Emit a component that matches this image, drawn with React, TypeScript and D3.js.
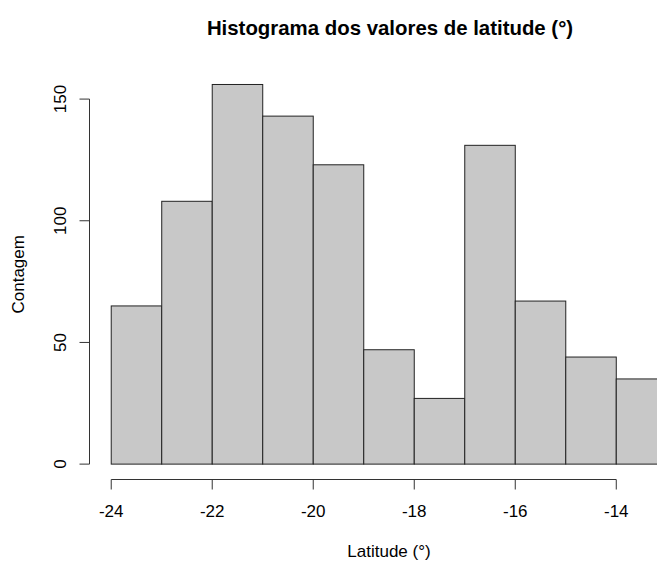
import React from "react";
import * as d3 from "d3";

// Histogram bins (latitude in degrees, 1-degree wide) and their counts
const binStarts = [-24, -23, -22, -21, -20, -19, -18, -17, -16, -15, -14];
const binWidth = 1;
const counts = [65, 108, 156, 143, 123, 47, 27, 131, 67, 44, 35];
const xTicks = [-24, -22, -20, -18, -16, -14];
const yTicks = [0, 50, 100, 150];

const W = 657;
const H = 561;
const FONT = "'Liberation Sans', Arial, Helvetica, sans-serif";

export default function App() {
  // Plot region padded 4% beyond the data range on each side
  const xLim = [-24, -13];
  const xPad = (xLim[1] - xLim[0]) * 0.04;
  const x = d3
    .scaleLinear()
    .domain([xLim[0] - xPad, xLim[1] + xPad])
    .range([89, 689]);
  const yLim = [0, 156];
  const yPad = (yLim[1] - yLim[0]) * 0.04;
  const y = d3
    .scaleLinear()
    .domain([yLim[0] - yPad, yLim[1] + yPad])
    .range([479.3, 69.3]);

  const axisY = 479.5;
  const axisX = 89.5;
  const cx = (x.range()[0] + x.range()[1]) / 2;
  const cy = (y.range()[0] + y.range()[1]) / 2;

  return (
    <svg
      width={W}
      height={H}
      viewBox={`0 0 ${W} ${H}`}
      style={{ position: "absolute", left: 0, top: 0, background: "#fff" }}
      fontFamily={FONT}
    >
      <text
        x={cx + 1}
        y={35}
        textAnchor="middle"
        fontSize={20.4}
        fontWeight="bold"
        fill="#000"
      >
        Histograma dos valores de latitude (°)
      </text>

      {/* bars */}
      <g>
        {binStarts.map((b, i) => (
          <rect
            key={b}
            x={x(b)}
            y={y(counts[i])}
            width={x(b + binWidth) - x(b)}
            height={y(0) - y(counts[i])}
            fill="#c8c8c8"
            stroke="#222"
            strokeWidth={1}
          />
        ))}
      </g>

      {/* x axis */}
      <g stroke="#333" strokeWidth={1} fill="none">
        <line x1={x(xTicks[0])} x2={x(xTicks[xTicks.length - 1])} y1={axisY} y2={axisY} />
        {xTicks.map((t) => (
          <line key={t} x1={x(t)} x2={x(t)} y1={axisY} y2={axisY + 10} />
        ))}
      </g>
      {xTicks.map((t) => (
        <text key={t} x={x(t)} y={517} textAnchor="middle" fontSize={17} fill="#000">
          {t < 0 ? `-${Math.abs(t)}` : t}
        </text>
      ))}
      <text x={cx} y={557} textAnchor="middle" fontSize={17} fill="#000">
        Latitude (°)
      </text>

      {/* y axis */}
      <g stroke="#333" strokeWidth={1} fill="none">
        <line x1={axisX} x2={axisX} y1={y(0)} y2={y(150)} />
        {yTicks.map((t) => (
          <line key={t} x1={axisX} x2={axisX - 10} y1={y(t)} y2={y(t)} />
        ))}
      </g>
      {yTicks.map((t) => (
        <text
          key={t}
          transform={`translate(65.5,${y(t)}) rotate(-90)`}
          textAnchor="middle"
          fontSize={17}
          fill="#000"
        >
          {t}
        </text>
      ))}
      <text
        transform={`translate(23.5,${cy}) rotate(-90)`}
        textAnchor="middle"
        fontSize={17}
        fill="#000"
      >
        Contagem
      </text>
    </svg>
  );
}
